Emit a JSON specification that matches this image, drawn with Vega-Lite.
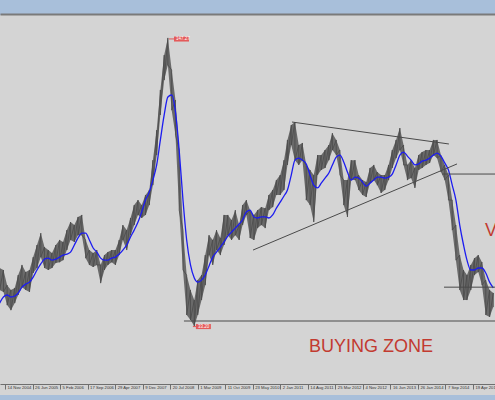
{
  "$schema": "https://vega.github.io/schema/vega-lite/v6.json",
  "width": 495,
  "height": 380,
  "autosize": {"type": "none"},
  "padding": {"top": 15, "bottom": 5, "left": 0, "right": 0},
  "background": "#a8bfda",
  "config": {"view": {"fill": "#d4d4d4", "stroke": null}},
  "datasets": {
    "px": [
      {"d":"2004-10-01","hi":56.2,"lo":47.5,"ma":42.3},
      {"d":"2004-11-01","hi":55.4,"lo":46.7,"ma":44.7},
      {"d":"2004-12-01","hi":49.4,"lo":41.5,"ma":45.5},
      {"d":"2005-01-01","hi":47.5,"lo":39.5,"ma":44.7},
      {"d":"2005-02-01","hi":48.3,"lo":42.3,"ma":45.1},
      {"d":"2005-03-01","hi":53.4,"lo":45.5,"ma":46.3},
      {"d":"2005-04-01","hi":57.4,"lo":48.6,"ma":48.6},
      {"d":"2005-05-01","hi":54.6,"lo":47.5,"ma":49.8},
      {"d":"2005-06-01","hi":55.4,"lo":46.7,"ma":50.6},
      {"d":"2005-07-01","hi":60.5,"lo":54.2,"ma":52.6},
      {"d":"2005-08-01","hi":65.3,"lo":56.2,"ma":55.4},
      {"d":"2005-09-01","hi":70.0,"lo":60.5,"ma":57.8},
      {"d":"2005-10-01","hi":64.5,"lo":56.2,"ma":59.7},
      {"d":"2005-11-01","hi":63.3,"lo":55.4,"ma":60.1},
      {"d":"2005-12-01","hi":62.1,"lo":56.2,"ma":59.3},
      {"d":"2006-01-01","hi":65.3,"lo":58.2,"ma":59.7},
      {"d":"2006-02-01","hi":67.3,"lo":58.5,"ma":60.5},
      {"d":"2006-03-01","hi":66.5,"lo":59.3,"ma":61.3},
      {"d":"2006-04-01","hi":71.2,"lo":63.3,"ma":61.7},
      {"d":"2006-05-01","hi":74.4,"lo":67.3,"ma":62.5},
      {"d":"2006-06-01","hi":73.2,"lo":66.5,"ma":65.3},
      {"d":"2006-07-01","hi":76.4,"lo":69.2,"ma":68.1},
      {"d":"2006-08-01","hi":77.2,"lo":69.2,"ma":70.0},
      {"d":"2006-09-01","hi":67.3,"lo":60.1,"ma":70.0},
      {"d":"2006-10-01","hi":63.3,"lo":57.4,"ma":67.3},
      {"d":"2006-11-01","hi":62.1,"lo":56.6,"ma":64.1},
      {"d":"2006-12-01","hi":63.3,"lo":57.4,"ma":62.5},
      {"d":"2007-01-01","hi":57.4,"lo":50.2,"ma":60.1},
      {"d":"2007-02-01","hi":61.3,"lo":55.4,"ma":59.3},
      {"d":"2007-03-01","hi":62.5,"lo":57.4,"ma":59.3},
      {"d":"2007-04-01","hi":63.3,"lo":58.5,"ma":60.1},
      {"d":"2007-05-01","hi":63.3,"lo":57.4,"ma":60.5},
      {"d":"2007-06-01","hi":67.3,"lo":61.3,"ma":61.7},
      {"d":"2007-07-01","hi":73.2,"lo":67.3,"ma":63.3},
      {"d":"2007-08-01","hi":71.2,"lo":63.3,"ma":65.3},
      {"d":"2007-09-01","hi":76.0,"lo":69.2,"ma":68.5},
      {"d":"2007-10-01","hi":81.1,"lo":73.2,"ma":71.2},
      {"d":"2007-11-01","hi":83.1,"lo":77.2,"ma":74.4},
      {"d":"2007-12-01","hi":81.1,"lo":76.0,"ma":78.4},
      {"d":"2008-01-01","hi":85.1,"lo":77.2,"ma":83.1},
      {"d":"2008-02-01","hi":87.1,"lo":81.1,"ma":86.3},
      {"d":"2008-03-01","hi":98.9,"lo":89.0,"ma":91.0},
      {"d":"2008-04-01","hi":110.8,"lo":100.9,"ma":97.0},
      {"d":"2008-05-01","hi":126.7,"lo":116.8,"ma":106.9},
      {"d":"2008-06-01","hi":140.5,"lo":130.6,"ma":116.8},
      {"d":"2008-07-01","hi":147.3,"lo":136.6,"ma":123.9},
      {"d":"2008-08-01","hi":134.6,"lo":118.7,"ma":124.7},
      {"d":"2008-09-01","hi":122.7,"lo":108.8,"ma":117.9},
      {"d":"2008-10-01","hi":102.9,"lo":79.1,"ma":102.9},
      {"d":"2008-11-01","hi":71.2,"lo":55.4,"ma":83.1},
      {"d":"2008-12-01","hi":53.4,"lo":37.6,"ma":67.3},
      {"d":"2009-01-01","hi":47.5,"lo":35.6,"ma":57.4},
      {"d":"2009-02-01","hi":43.5,"lo":33.2,"ma":52.2},
      {"d":"2009-03-01","hi":51.4,"lo":37.6,"ma":50.6},
      {"d":"2009-04-01","hi":53.4,"lo":43.5,"ma":51.4},
      {"d":"2009-05-01","hi":61.3,"lo":49.4,"ma":53.4},
      {"d":"2009-06-01","hi":69.2,"lo":61.3,"ma":57.0},
      {"d":"2009-07-01","hi":67.3,"lo":57.4,"ma":60.5},
      {"d":"2009-08-01","hi":71.2,"lo":63.3,"ma":62.5},
      {"d":"2009-09-01","hi":68.1,"lo":61.3,"ma":64.5},
      {"d":"2009-10-01","hi":77.2,"lo":65.3,"ma":66.5},
      {"d":"2009-11-01","hi":77.2,"lo":69.2,"ma":68.8},
      {"d":"2009-12-01","hi":75.2,"lo":67.3,"ma":70.4},
      {"d":"2010-01-01","hi":79.1,"lo":69.2,"ma":72.0},
      {"d":"2010-02-01","hi":73.2,"lo":67.3,"ma":73.6},
      {"d":"2010-03-01","hi":81.1,"lo":73.2,"ma":75.2},
      {"d":"2010-04-01","hi":83.1,"lo":77.2,"ma":78.4},
      {"d":"2010-05-01","hi":79.1,"lo":68.1,"ma":79.1},
      {"d":"2010-06-01","hi":77.2,"lo":67.3,"ma":76.4},
      {"d":"2010-07-01","hi":79.1,"lo":72.0,"ma":76.0},
      {"d":"2010-08-01","hi":80.3,"lo":73.2,"ma":76.4},
      {"d":"2010-09-01","hi":79.9,"lo":72.0,"ma":76.4},
      {"d":"2010-10-01","hi":85.1,"lo":79.1,"ma":76.0},
      {"d":"2010-11-01","hi":87.1,"lo":80.3,"ma":77.2},
      {"d":"2010-12-01","hi":91.0,"lo":85.1,"ma":79.9},
      {"d":"2011-01-01","hi":93.0,"lo":85.1,"ma":82.3},
      {"d":"2011-02-01","hi":98.9,"lo":87.1,"ma":84.7},
      {"d":"2011-03-01","hi":106.9,"lo":97.0,"ma":87.1},
      {"d":"2011-04-01","hi":112.8,"lo":104.9,"ma":93.0},
      {"d":"2011-05-01","hi":114.0,"lo":98.9,"ma":98.9},
      {"d":"2011-06-01","hi":104.9,"lo":97.0,"ma":99.7},
      {"d":"2011-07-01","hi":105.7,"lo":98.9,"ma":98.9},
      {"d":"2011-08-01","hi":97.0,"lo":83.1,"ma":97.4},
      {"d":"2011-09-01","hi":95.0,"lo":81.1,"ma":93.0},
      {"d":"2011-10-01","hi":93.0,"lo":74.4,"ma":89.0},
      {"d":"2011-11-01","hi":100.9,"lo":93.0,"ma":87.9},
      {"d":"2011-12-01","hi":100.9,"lo":95.0,"ma":89.8},
      {"d":"2012-01-01","hi":102.9,"lo":95.8,"ma":91.8},
      {"d":"2012-02-01","hi":104.9,"lo":98.9,"ma":93.8},
      {"d":"2012-03-01","hi":109.6,"lo":102.9,"ma":97.0},
      {"d":"2012-04-01","hi":106.9,"lo":100.9,"ma":100.1},
      {"d":"2012-05-01","hi":102.9,"lo":93.0,"ma":100.9},
      {"d":"2012-06-01","hi":91.0,"lo":81.1,"ma":98.2},
      {"d":"2012-07-01","hi":91.0,"lo":76.4,"ma":94.2},
      {"d":"2012-08-01","hi":98.9,"lo":91.0,"ma":91.0},
      {"d":"2012-09-01","hi":98.9,"lo":91.0,"ma":92.2},
      {"d":"2012-10-01","hi":93.0,"lo":87.1,"ma":91.8},
      {"d":"2012-11-01","hi":91.0,"lo":85.1,"ma":90.2},
      {"d":"2012-12-01","hi":90.2,"lo":84.3,"ma":88.6},
      {"d":"2013-01-01","hi":95.8,"lo":89.8,"ma":89.8},
      {"d":"2013-02-01","hi":97.0,"lo":91.0,"ma":91.0},
      {"d":"2013-03-01","hi":94.2,"lo":89.0,"ma":92.2},
      {"d":"2013-04-01","hi":93.0,"lo":85.9,"ma":92.2},
      {"d":"2013-05-01","hi":93.0,"lo":87.1,"ma":91.8},
      {"d":"2013-06-01","hi":97.0,"lo":91.0,"ma":92.2},
      {"d":"2013-07-01","hi":102.9,"lo":95.8,"ma":93.4},
      {"d":"2013-08-01","hi":106.9,"lo":99.7,"ma":97.0},
      {"d":"2013-09-01","hi":111.6,"lo":102.9,"ma":100.9},
      {"d":"2013-10-01","hi":104.9,"lo":97.0,"ma":102.1},
      {"d":"2013-11-01","hi":97.0,"lo":91.0,"ma":100.5},
      {"d":"2013-12-01","hi":98.9,"lo":91.8,"ma":98.9},
      {"d":"2014-01-01","hi":95.8,"lo":87.9,"ma":97.0},
      {"d":"2014-02-01","hi":100.9,"lo":95.0,"ma":97.4},
      {"d":"2014-03-01","hi":102.1,"lo":95.8,"ma":98.5},
      {"d":"2014-04-01","hi":102.9,"lo":97.0,"ma":98.9},
      {"d":"2014-05-01","hi":102.9,"lo":97.8,"ma":99.7},
      {"d":"2014-06-01","hi":106.9,"lo":100.9,"ma":100.9},
      {"d":"2014-07-01","hi":106.9,"lo":99.7,"ma":101.7},
      {"d":"2014-08-01","hi":100.9,"lo":94.2,"ma":100.5},
      {"d":"2014-09-01","hi":97.0,"lo":91.0,"ma":97.8},
      {"d":"2014-10-01","hi":93.0,"lo":83.1,"ma":95.0},
      {"d":"2014-11-01","hi":83.1,"lo":71.2,"ma":89.0},
      {"d":"2014-12-01","hi":73.2,"lo":59.3,"ma":83.1},
      {"d":"2015-01-01","hi":61.3,"lo":47.5,"ma":73.2},
      {"d":"2015-02-01","hi":55.4,"lo":43.5,"ma":65.3},
      {"d":"2015-03-01","hi":53.4,"lo":43.5,"ma":59.3},
      {"d":"2015-04-01","hi":57.4,"lo":47.5,"ma":55.4},
      {"d":"2015-05-01","hi":60.1,"lo":53.4,"ma":55.4},
      {"d":"2015-06-01","hi":61.3,"lo":54.6,"ma":56.2},
      {"d":"2015-07-01","hi":58.5,"lo":49.4,"ma":56.2},
      {"d":"2015-08-01","hi":51.4,"lo":37.6,"ma":54.2},
      {"d":"2015-09-01","hi":47.5,"lo":36.8,"ma":50.6},
      {"d":"2015-10-01","hi":46.3,"lo":40.7,"ma":48.3}
    ],
    "tl": [
      {"d1":"2011-04-07","p1":114.0,"d2":"2014-10-05","p2":105.3},
      {"d1":"2010-05-25","p1":63.3,"d2":"2014-12-10","p2":97.4},
      {"d1":"2008-11-09","p1":35.2,"d2":"2015-12-01","p2":35.2},
      {"d1":"2014-08-10","p1":93.4,"d2":"2015-12-01","p2":93.4},
      {"d1":"2014-08-26","p1":48.6,"d2":"2015-12-01","p2":48.6}
    ],
    "lb": [
      {"dp":"2008-07-10","pp":146.9,"d1":"2008-08-20","d2":"2008-12-20","p1":147.85,"p2":145.87,"t":"147.27"},
      {"dp":"2009-01-21","pp":33.0,"d1":"2009-02-14","d2":"2009-06-16","p1":34.0,"p2":32.0,"t":"33.20"}
    ],
    "tx": [
      {"d":"2013-01-09","p":24.9,"t":"BUYING ZONE"},
      {"d":"2015-09-13","p":70.8,"t":"V"}
    ]
  },
  "resolve": {"axis": {"x": "independent"}},
  "layer": [
    {
      "data": {"name": "px"},
      "mark": {"type": "area", "color": "#6a6a6a", "clip": true},
      "encoding": {
        "x": {"field": "d", "type": "temporal",
          "scale": {"type": "utc", "domain": [{"year": 2004, "month": 10, "date": 4, "utc": true}, {"year": 2015, "month": 10, "date": 15, "utc": true}]},
          "axis": {"orient": "bottom", "offset": -11, "title": null, "format": "%-d %b %Y",
            "values": [
              {"year":2004,"month":11,"date":14,"utc":true},{"year":2005,"month":6,"date":26,"utc":true},
              {"year":2006,"month":2,"date":5,"utc":true},{"year":2006,"month":9,"date":17,"utc":true},
              {"year":2007,"month":4,"date":29,"utc":true},{"year":2007,"month":12,"date":9,"utc":true},
              {"year":2008,"month":7,"date":20,"utc":true},{"year":2009,"month":3,"date":1,"utc":true},
              {"year":2009,"month":10,"date":11,"utc":true},{"year":2010,"month":5,"date":23,"utc":true},
              {"year":2011,"month":1,"date":2,"utc":true},{"year":2011,"month":8,"date":14,"utc":true},
              {"year":2012,"month":3,"date":25,"utc":true},{"year":2012,"month":11,"date":4,"utc":true},
              {"year":2013,"month":6,"date":16,"utc":true},{"year":2014,"month":1,"date":26,"utc":true},
              {"year":2014,"month":9,"date":7,"utc":true},{"year":2015,"month":4,"date":19,"utc":true}
            ],
            "domainColor": "#6e6e6e", "tickColor": "#6e6e6e", "tickSize": 5,
            "labelAlign": "left", "labelBaseline": "top", "labelPadding": -4, "labelOffset": 2,
            "labelFont": "Liberation Sans", "labelFontSize": 4.2, "labelColor": "#333333",
            "labelOverlap": false, "labelFlush": false, "labelBound": false, "grid": false}},
        "y": {"field": "hi", "type": "quantitative", "scale": {"domain": [5.9, 156.38], "nice": false, "zero": false}, "axis": null},
        "y2": {"field": "lo"}
      }
    },
    {
      "data": {"name": "px"},
      "transform": [{"fold": ["hi", "lo"], "as": ["k", "v"]}],
      "mark": {"type": "line", "color": "#4a4a4a", "strokeWidth": 0.8, "clip": true},
      "encoding": {
        "x": {"field": "d", "type": "temporal", "axis": null},
        "y": {"field": "v", "type": "quantitative"},
        "order": [{"field": "d", "type": "temporal"}, {"field": "k", "type": "nominal"}]
      }
    },
    {
      "data": {"name": "px"},
      "mark": {"type": "line", "color": "#1c1cf0", "strokeWidth": 1.3, "interpolate": "monotone", "clip": true},
      "encoding": {
        "x": {"field": "d", "type": "temporal", "axis": null},
        "y": {"field": "ma", "type": "quantitative"}
      }
    },
    {
      "data": {"name": "tl"},
      "mark": {"type": "rule", "color": "#4a4a4a", "strokeWidth": 1, "clip": true},
      "encoding": {
        "x": {"field": "d1", "type": "temporal",
          "axis": {"orient": "top", "offset": 1, "labels": false, "ticks": false, "title": null, "grid": false, "domainColor": "#7a7a7a", "domainWidth": 2}},
        "x2": {"field": "d2"},
        "y": {"field": "p1", "type": "quantitative"},
        "y2": {"field": "p2"}
      }
    },
    {
      "data": {"name": "lb"},
      "mark": {"type": "rule", "color": "#e05555", "strokeWidth": 1},
      "encoding": {
        "x": {"field": "dp", "type": "temporal", "axis": null},
        "x2": {"field": "d1"},
        "y": {"field": "pp", "type": "quantitative"},
        "y2": {"field": "pp"}
      }
    },
    {
      "data": {"name": "lb"},
      "mark": {"type": "rect", "color": "#e45a5a"},
      "encoding": {
        "x": {"field": "d1", "type": "temporal", "axis": null},
        "x2": {"field": "d2"},
        "y": {"field": "p1", "type": "quantitative"},
        "y2": {"field": "p2"}
      }
    },
    {
      "data": {"name": "lb"},
      "mark": {"type": "text", "color": "#ffffff", "fontSize": 4.5, "font": "Liberation Sans", "align": "left", "baseline": "middle", "dx": 2},
      "encoding": {
        "x": {"field": "d1", "type": "temporal", "axis": null},
        "y": {"field": "pp", "type": "quantitative"},
        "text": {"field": "t"}
      }
    },
    {
      "data": {"name": "tx"},
      "mark": {"type": "text", "color": "#c23a30", "fontSize": 18, "font": "Liberation Sans", "align": "center", "baseline": "middle", "clip": true},
      "encoding": {
        "x": {"field": "d", "type": "temporal", "axis": null},
        "y": {"field": "p", "type": "quantitative"},
        "text": {"field": "t"}
      }
    }
  ]
}
